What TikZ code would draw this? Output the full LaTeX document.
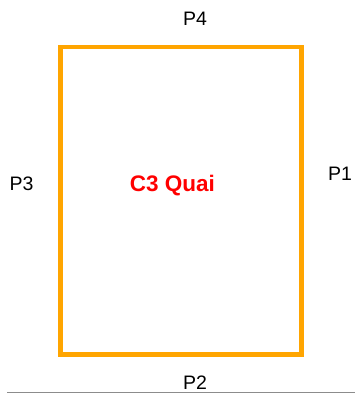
\documentclass[tikz,border=0pt]{standalone}
\usepackage{fontspec}
\setmainfont{Liberation Sans}
\definecolor{quaiorange}{HTML}{FFA500}
\definecolor{quaired}{HTML}{FF0000}
\definecolor{rulegray}{HTML}{8C8C8C}
\begin{document}
\begin{tikzpicture}[x=1pt,y=-1pt,
  plabel/.style={font=\fontsize{19.5}{22}\selectfont, text=black, inner sep=0pt, anchor=center},
  title/.style={font=\fontsize{22.5}{25}\selectfont\bfseries, text=quaired, inner sep=0pt, anchor=center},
  wall/.style={draw=quaiorange, line width=4.6pt, line join=miter}
]
\useasboundingbox (0,0) rectangle (355,394);
\coordinate (tl) at (60.5,47);
\coordinate (br) at (301.5,354.5);
\draw[wall] (tl) rectangle (br);
\node[plabel] (p4) at (195,18.5) {P4};
\node[plabel] (p3) at (21.5,183.5) {P3};
\node[plabel] (p1) at (340,173.5) {P1};
\node[plabel] (p2) at (195,382.5) {P2};
\node[title] (c3) at (172.5,185.5) {C3 Quai};
\coordinate (la) at (7,392.7);
\coordinate (lb) at (355,392.7);
\draw[rulegray, line width=1.4pt] (la) -- (lb);
\end{tikzpicture}
\end{document}
